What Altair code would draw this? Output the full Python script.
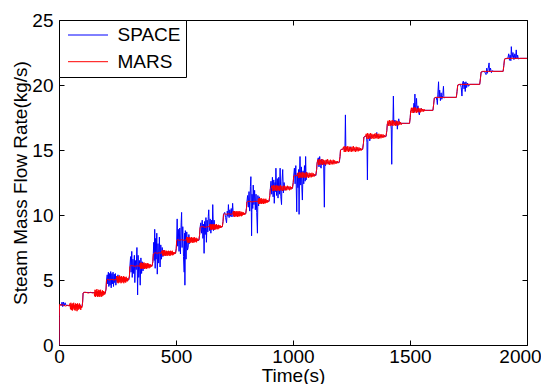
import altair as alt
import pandas as pd

# ---------------- data (time s, flow kg/s) ----------------
space_points = [
    (0, 0.0), (1, 2.2), (2, 3.0), (4, 3.1), (10, 3.05), (13, 3.3), (16, 2.95), (19, 3.3), (22, 3.0),
    (26, 3.25), (30, 3.05), (40, 3.05), (50, 3.0), (70, 2.95), (98, 2.95),
    (101, 3.3), (103, 4.0), (106, 4.05), (198, 4.0),
    (201, 4.3), (203, 5.0), (206, 5.4), (208, 4.7), (211, 5.6), (213, 4.5), (216, 5.5), (218, 4.6),
    (221, 5.65), (223, 4.4), (226, 5.5), (228, 4.7), (231, 5.6), (233, 4.5), (236, 5.45), (238, 4.8),
    (241, 5.5), (243, 4.6), (246, 5.3), (249, 4.9), (252, 5.4), (255, 4.85), (258, 5.2), (261, 5.0),
    (280, 5.0), (298, 5.0),
    (301, 5.3), (303, 6.05), (306, 6.8), (308, 5.6), (311, 7.2), (313, 5.2), (316, 6.6), (319, 5.5),
    (322, 6.9), (324, 4.8), (327, 6.5), (330, 5.8), (333, 7.5), (336, 3.85), (338, 6.9), (341, 5.2),
    (344, 6.5), (347, 4.6), (350, 6.7), (353, 5.5), (356, 6.4), (359, 5.7), (362, 6.3), (366, 5.9),
    (370, 6.1), (398, 6.1),
    (401, 6.4), (403, 7.05), (405, 7.9), (407, 6.5), (409, 8.9), (411, 5.9), (413, 8.2), (415, 6.6),
    (418, 8.6), (420, 5.45), (423, 7.8), (426, 6.3), (429, 8.3), (432, 6.0), (435, 7.7), (438, 6.6),
    (441, 7.5), (444, 6.8), (448, 7.3), (452, 6.9), (456, 7.05), (498, 7.05),
    (501, 7.4), (503, 8.05), (505, 9.7), (507, 7.6), (510, 8.9), (513, 7.2), (516, 9.0), (519, 7.0),
    (522, 9.4), (524, 10.2), (526, 7.5), (529, 9.1), (532, 6.8), (535, 5.6), (537, 8.6), (538, 4.6),
    (540, 8.8), (543, 6.6), (546, 8.7), (549, 7.3), (552, 7.5), (555, 8.5), (558, 7.8), (561, 8.2),
    (565, 8.05), (598, 8.05),
    (601, 8.5), (603, 9.05), (606, 9.4), (609, 8.6), (612, 9.6), (615, 8.2), (618, 9.3), (620, 7.05),
    (622, 9.5), (625, 8.5), (628, 9.8), (630, 7.9), (633, 9.6), (636, 8.7), (638, 9.9), (640, 10.4),
    (643, 8.8), (646, 9.7), (649, 8.6), (652, 9.6), (655, 8.9), (657, 10.8), (660, 8.8), (663, 9.6),
    (666, 8.9), (670, 9.2), (674, 9.1), (698, 9.1),
    (701, 9.5), (703, 10.05), (708, 10.2), (712, 9.8), (716, 9.4), (719, 10.3), (722, 9.9), (724, 10.8),
    (727, 9.8), (730, 10.4), (733, 9.9), (736, 10.5), (739, 9.85), (742, 10.9), (745, 9.9), (748, 10.3),
    (752, 10.0), (760, 10.1), (798, 10.1),
    (801, 10.5), (803, 11.0), (806, 11.5), (809, 10.6), (812, 11.8), (815, 10.3), (818, 12.2), (820, 12.95),
    (822, 10.2), (823, 8.4), (825, 11.6), (828, 10.5), (830, 12.3), (833, 10.8), (836, 11.9), (839, 10.4),
    (842, 11.6), (845, 10.2), (848, 8.6), (850, 11.5), (853, 10.7), (856, 11.4), (859, 10.9), (863, 11.1),
    (870, 11.05), (898, 11.05),
    (901, 11.5), (903, 12.0), (906, 12.6), (909, 11.6), (912, 12.9), (915, 11.4), (918, 12.7), (920, 10.9),
    (923, 12.5), (925, 11.8), (927, 13.6), (930, 11.5), (933, 12.8), (936, 11.3), (939, 12.9), (942, 11.6),
    (945, 13.6), (948, 11.4), (951, 10.8), (953, 12.6), (956, 13.5), (959, 11.7), (962, 12.5), (966, 11.9),
    (970, 12.1), (998, 12.05),
    (1001, 12.5), (1003, 13.0), (1006, 13.6), (1009, 12.4), (1012, 13.8), (1016, 10.25), (1018, 13.2),
    (1021, 12.1), (1024, 13.5), (1026, 10.05), (1028, 13.3), (1030, 14.5), (1033, 12.3), (1036, 13.7),
    (1038, 12.0), (1040, 11.15), (1043, 13.4), (1046, 12.4), (1049, 13.8), (1052, 12.6), (1054, 14.5),
    (1056, 12.7), (1059, 13.3), (1063, 13.0), (1070, 13.05), (1098, 13.05),
    (1101, 13.5), (1103, 14.0), (1108, 14.4), (1111, 13.7), (1114, 14.5), (1117, 13.8), (1120, 13.6),
    (1123, 14.3), (1127, 13.9), (1131, 14.1), (1134, 10.6), (1136, 14.0), (1139, 13.8), (1142, 14.2),
    (1145, 14.0), (1150, 14.05), (1198, 14.05),
    (1201, 14.5), (1203, 15.0), (1210, 15.05), (1218, 15.1), (1222, 15.0), (1224, 17.7), (1226, 15.0),
    (1232, 15.2), (1238, 14.9), (1245, 15.25), (1250, 15.0), (1260, 15.05), (1298, 15.05),
    (1301, 15.5), (1303, 16.0), (1310, 16.05), (1314, 16.1), (1316, 15.6), (1318, 12.7), (1320, 15.8),
    (1323, 16.1), (1328, 15.7), (1332, 16.05), (1345, 16.1), (1356, 16.1), (1358, 16.35), (1360, 16.0),
    (1370, 16.05), (1398, 16.05),
    (1401, 16.5), (1403, 17.0), (1410, 17.1), (1418, 17.0), (1420, 16.6), (1422, 13.9), (1424, 17.2),
    (1427, 17.0), (1429, 19.15), (1431, 17.1), (1436, 17.3), (1440, 16.9), (1444, 17.2), (1446, 16.6),
    (1448, 17.1), (1452, 17.4), (1455, 17.0), (1460, 17.05), (1498, 17.05),
    (1501, 17.5), (1503, 18.0), (1510, 18.1), (1514, 18.0), (1517, 18.6), (1519, 17.9), (1521, 19.3),
    (1523, 18.0), (1526, 18.5), (1528, 18.97), (1530, 18.0), (1534, 18.4), (1537, 17.9), (1540, 17.7),
    (1543, 18.1), (1548, 18.2), (1555, 18.05), (1598, 18.05),
    (1601, 18.5), (1604, 19.0), (1612, 19.05), (1615, 18.8), (1617, 18.5), (1619, 19.3), (1622, 20.25),
    (1624, 19.0), (1627, 19.6), (1630, 18.8), (1633, 19.4), (1636, 18.9), (1640, 19.2), (1643, 19.9),
    (1645, 19.0), (1650, 19.05), (1698, 19.05),
    (1701, 19.5), (1704, 20.0), (1716, 20.05), (1719, 19.8), (1722, 19.15), (1725, 20.2), (1728, 20.3),
    (1731, 19.7), (1734, 20.2), (1736, 19.5), (1739, 20.25), (1742, 19.8), (1746, 20.15), (1750, 19.9),
    (1756, 20.05), (1798, 20.05),
    (1801, 20.5), (1804, 21.0), (1818, 21.05), (1822, 20.9), (1825, 20.8), (1828, 21.3), (1831, 20.9),
    (1834, 21.25), (1838, 21.7), (1840, 21.0), (1844, 21.3), (1848, 20.95), (1852, 21.1), (1858, 21.05),
    (1898, 21.05),
    (1901, 21.5), (1904, 22.0), (1918, 22.05), (1922, 22.4), (1925, 21.9), (1928, 22.3), (1931, 21.87),
    (1933, 22.95), (1936, 22.1), (1940, 22.5), (1944, 21.95), (1948, 22.4), (1951, 22.0), (1954, 22.7),
    (1957, 22.0), (1960, 22.3), (1963, 22.0), (1970, 22.05), (2000, 22.05),
]

mars_points = [
    (0, 0.0), (1, 2.2), (2, 3.0), (4, 3.15), (8, 3.05), (14, 3.1), (20, 3.05), (28, 3.0), (36, 3.05), (44, 3.0),
    (47, 3.2), (49, 2.75), (51, 3.25), (53, 2.7), (55, 3.15), (57, 2.65), (59, 3.2), (61, 2.8), (63, 3.25),
    (65, 2.7), (67, 3.1), (69, 2.65), (71, 3.2), (73, 2.75), (75, 3.15), (77, 2.6), (79, 3.2), (81, 2.7),
    (83, 3.1), (85, 2.75), (87, 3.2), (89, 2.8), (91, 3.1), (93, 2.7), (95, 3.0), (97, 2.85), (99, 2.95),
    (101, 3.3), (103, 4.0), (106, 4.05), (115, 4.05), (125, 4.0), (135, 4.05), (145, 4.0), (150, 4.05),
    (152, 3.75), (154, 4.25), (156, 3.7), (158, 4.2), (160, 3.8), (162, 4.3), (164, 3.7), (166, 4.15),
    (168, 3.75), (170, 4.25), (172, 3.7), (174, 4.2), (176, 3.8), (178, 4.25), (180, 3.7), (182, 4.1),
    (184, 3.75), (186, 4.2), (188, 3.8), (190, 4.15), (192, 3.85), (194, 4.1), (196, 3.9), (198, 4.05),
    (201, 4.3), (203, 5.0), (206, 5.05), (215, 5.0), (225, 5.05), (235, 5.0), (245, 5.05),
    (247, 5.3), (249, 4.8), (251, 5.3), (253, 4.75), (255, 5.25), (257, 4.8), (259, 5.35), (261, 4.85),
    (263, 5.25), (265, 4.75), (267, 5.3), (269, 4.8), (271, 5.2), (273, 4.85), (275, 5.3), (277, 4.75),
    (279, 5.25), (281, 4.85), (283, 5.2), (285, 4.8), (287, 5.25), (289, 4.9), (291, 5.15), (293, 4.9),
    (295, 5.1), (297, 5.0),
    (301, 5.3), (303, 6.05), (306, 6.1), (315, 6.1), (325, 6.05), (335, 6.1), (345, 6.05),
    (347, 6.3), (349, 5.85), (351, 6.35), (353, 5.9), (355, 6.3), (357, 5.85), (359, 6.3), (361, 5.9),
    (363, 6.35), (365, 5.85), (367, 6.25), (369, 5.9), (371, 6.3), (373, 5.85), (375, 6.25), (377, 5.9),
    (379, 6.3), (381, 5.95), (383, 6.25), (385, 5.9), (387, 6.2), (389, 5.95), (391, 6.2), (393, 6.0),
    (395, 6.15), (397, 6.05),
    (401, 6.4), (403, 7.0), (406, 7.05), (412, 7.1), (420, 7.05), (428, 7.1), (436, 7.05),
    (440, 7.25), (442, 6.9), (444, 7.3), (446, 6.85), (448, 7.25), (450, 6.9), (452, 7.3), (454, 6.85),
    (456, 7.2), (458, 6.9), (460, 7.25), (462, 6.85), (464, 7.2), (466, 6.9), (468, 7.25), (470, 6.9),
    (472, 7.2), (474, 6.85), (476, 7.25), (478, 6.9), (480, 7.2), (482, 6.95), (484, 7.25), (486, 6.9),
    (488, 7.15), (490, 6.95), (492, 7.15), (494, 7.0), (496, 7.1), (498, 7.05),
    (501, 7.4), (503, 8.05), (506, 8.1), (515, 8.05), (525, 8.1), (535, 8.05), (544, 8.1),
    (546, 8.3), (548, 7.9), (550, 8.3), (552, 7.85), (554, 8.25), (556, 7.9), (558, 8.3), (560, 7.85),
    (562, 8.25), (564, 7.9), (566, 8.3), (568, 7.9), (570, 8.25), (572, 7.85), (574, 8.25), (576, 7.9),
    (578, 8.3), (580, 7.9), (582, 8.2), (584, 7.95), (586, 8.25), (588, 7.9), (590, 8.2), (592, 8.0),
    (594, 8.15), (596, 8.05), (598, 8.1),
    (601, 8.5), (603, 9.05), (606, 9.1), (615, 9.1), (625, 9.05), (635, 9.1), (643, 9.1),
    (645, 9.3), (647, 8.9), (649, 9.3), (651, 8.85), (653, 9.25), (655, 8.9), (657, 9.3), (659, 8.9),
    (661, 9.25), (663, 8.85), (665, 9.3), (667, 8.9), (669, 9.25), (671, 8.9), (673, 9.3), (675, 8.95),
    (677, 9.2), (679, 8.9), (681, 9.25), (683, 8.95), (685, 9.2), (687, 9.0), (689, 9.2), (691, 9.0),
    (693, 9.15), (695, 9.05), (698, 9.1),
    (701, 9.5), (703, 10.05), (706, 10.1), (715, 10.05), (725, 10.1), (735, 10.05), (743, 10.1),
    (745, 10.3), (747, 9.9), (749, 10.3), (751, 9.85), (753, 10.25), (755, 9.9), (757, 10.3), (759, 9.9),
    (761, 10.25), (763, 9.85), (765, 10.3), (767, 9.9), (769, 10.25), (771, 9.9), (773, 10.3), (775, 9.95),
    (777, 10.2), (779, 9.9), (781, 10.25), (783, 9.95), (785, 10.2), (787, 10.0), (789, 10.2), (791, 10.0),
    (793, 10.15), (795, 10.05), (798, 10.1),
    (801, 10.5), (803, 11.0), (806, 11.05), (815, 11.05), (825, 11.0), (835, 11.05), (845, 11.05), (850, 11.0),
    (852, 11.25), (854, 10.85), (856, 11.3), (858, 10.85), (860, 11.25), (862, 10.9), (864, 11.3), (866, 10.85),
    (868, 11.2), (870, 10.9), (872, 11.25), (874, 10.85), (876, 11.25), (878, 10.9), (880, 11.2), (882, 10.9),
    (884, 11.25), (886, 10.95), (888, 11.15), (890, 10.95), (892, 11.15), (894, 11.0), (897, 11.05),
    (901, 11.5), (903, 12.0), (906, 12.05),
    (910, 12.25), (913, 11.85), (916, 12.3), (919, 11.85), (922, 12.25), (925, 11.9), (928, 12.3), (931, 11.85),
    (934, 12.25), (937, 11.9), (940, 12.25), (943, 11.85), (946, 12.3), (949, 11.9), (952, 12.2), (955, 11.85),
    (958, 12.25), (961, 11.9), (964, 12.25), (967, 11.9), (970, 12.2), (973, 11.9), (976, 12.25), (979, 11.95),
    (982, 12.2), (985, 11.9), (988, 12.2), (991, 11.95), (994, 12.15), (997, 12.05),
    (1001, 12.5), (1003, 13.0), (1006, 13.05), (1012, 13.05), (1018, 13.0),
    (1021, 13.25), (1024, 12.85), (1027, 13.3), (1030, 12.85), (1033, 13.25), (1036, 12.9), (1039, 13.3),
    (1042, 12.85), (1045, 13.25), (1048, 12.9), (1051, 13.25), (1054, 12.85), (1057, 13.3), (1060, 12.9),
    (1063, 13.2), (1066, 12.85), (1069, 13.25), (1072, 12.9), (1075, 13.2), (1078, 12.9), (1081, 13.25),
    (1084, 12.95), (1087, 13.2), (1090, 12.95), (1093, 13.15), (1097, 13.05),
    (1101, 13.5), (1103, 14.0), (1106, 14.25), (1109, 13.85), (1112, 14.3), (1115, 13.85), (1118, 14.25),
    (1121, 13.9), (1124, 14.3), (1127, 13.85), (1130, 14.25), (1133, 13.9), (1136, 14.2), (1139, 13.85),
    (1142, 14.25), (1145, 13.9), (1148, 14.3), (1151, 13.9), (1154, 14.2), (1157, 13.85), (1160, 14.25),
    (1163, 13.9), (1166, 14.2), (1169, 13.9), (1172, 14.25), (1175, 13.9), (1178, 14.2), (1181, 13.95),
    (1184, 14.15), (1187, 13.95), (1190, 14.15), (1193, 14.0), (1197, 14.05),
    (1201, 14.5), (1203, 15.0), (1206, 15.05), (1212, 15.05),
    (1216, 15.25), (1219, 14.85), (1222, 15.3), (1225, 14.85), (1228, 15.25), (1231, 14.9), (1234, 15.3),
    (1237, 14.85), (1240, 15.25), (1243, 14.9), (1246, 15.2), (1249, 14.85), (1252, 15.25), (1255, 14.9),
    (1258, 15.3), (1261, 14.9), (1264, 15.2), (1267, 14.85), (1270, 15.25), (1273, 14.9), (1276, 15.2),
    (1279, 14.9), (1282, 15.2), (1285, 14.95), (1288, 15.15), (1291, 14.95), (1294, 15.1), (1297, 15.05),
    (1301, 15.5), (1303, 16.0), (1306, 16.05), (1310, 16.05),
    (1313, 16.25), (1316, 15.85), (1319, 16.3), (1322, 15.85), (1325, 16.25), (1328, 15.9), (1331, 16.3),
    (1334, 15.85), (1337, 16.25), (1340, 15.9), (1343, 16.2), (1346, 15.85), (1349, 16.25), (1352, 15.9),
    (1355, 16.3), (1358, 15.9), (1361, 16.2), (1364, 15.85), (1367, 16.25), (1370, 15.9), (1373, 16.2),
    (1376, 15.9), (1379, 16.2), (1382, 15.95), (1385, 16.2), (1388, 15.95), (1391, 16.15), (1394, 16.0),
    (1397, 16.05),
    (1401, 16.5), (1403, 17.0), (1406, 17.25), (1409, 16.85), (1412, 17.3), (1415, 16.85), (1418, 17.25),
    (1421, 16.9), (1424, 17.3), (1427, 16.85), (1430, 17.25), (1433, 16.9), (1436, 17.2), (1439, 16.85),
    (1442, 17.25), (1445, 16.9), (1448, 17.2), (1451, 16.9), (1454, 17.2), (1457, 16.95), (1460, 17.15),
    (1463, 16.95), (1466, 17.05), (1475, 17.05), (1485, 17.05), (1498, 17.05),
    (1501, 17.5), (1503, 18.0), (1506, 18.25), (1509, 17.85), (1512, 18.25), (1515, 17.85), (1518, 18.3),
    (1521, 17.9), (1524, 18.25), (1527, 17.85), (1530, 18.2), (1533, 17.9), (1536, 18.25), (1539, 17.9),
    (1542, 18.2), (1545, 17.9), (1548, 18.2), (1551, 17.95), (1554, 18.15), (1557, 17.95), (1560, 18.15),
    (1563, 18.0), (1566, 18.05), (1580, 18.05), (1598, 18.05),
    (1601, 18.5), (1604, 19.0), (1610, 19.05), (1698, 19.05),
    (1701, 19.5), (1704, 20.0), (1710, 20.05), (1798, 20.05),
    (1801, 20.5), (1804, 21.0), (1810, 21.05), (1898, 21.05),
    (1901, 21.5), (1904, 22.0), (1910, 22.05), (2000, 22.05),
]

series_names = ["SPACE", "MARS"]
series_colors = ["#0000ff", "#ff0000"]
x_ticks = [0, 500, 1000, 1500, 2000]
y_ticks = [0, 5, 10, 15, 20, 25]
x_title = "Time(s)"
y_title = "Steam Mass Flow Rate(kg/s)"

rows = [{"t": t, "flow": v, "series": "SPACE"} for t, v in space_points]
rows += [{"t": t, "flow": v, "series": "MARS"} for t, v in mars_points]
df = pd.DataFrame(rows)

FONT = "Liberation Sans"
FS = 19

x_scale = alt.Scale(domain=[0, 2000], nice=False, zero=False)
y_scale = alt.Scale(domain=[0, 25], nice=False, zero=False)
color_scale = alt.Scale(domain=series_names, range=series_colors)

common_axis = dict(grid=False, domain=False, tickSize=5, tickColor="black", tickWidth=1,
                   offset=-5, labelFont=FONT, labelFontSize=FS, labelColor="black",
                   titleFont=FONT, titleFontSize=FS, titleColor="black", titleFontWeight="normal")

x_axis = alt.Axis(title=x_title, values=x_ticks, labelPadding=2, titlePadding=0,
                  labelFlush=False, format="d",
                  labelOffset={"condition": {"test": "datum.value == 2000", "value": -7}, "value": 0},
                  **common_axis)
y_axis = alt.Axis(title=y_title, values=y_ticks, labelPadding=6, titlePadding=1,
                  format="d", **common_axis)
x_axis_top = alt.Axis(orient="top", values=x_ticks, labels=False, title=None, **common_axis)
y_axis_right = alt.Axis(orient="right", values=y_ticks, labels=False, title=None, **common_axis)

legend = alt.Legend(title=None, orient="none", legendX=0, legendY=0,
                    symbolType="stroke", symbolSize=1600, symbolStrokeWidth=1,
                    clipHeight=20, rowPadding=6.7, padding=5, symbolOffset=3.5, labelOffset=9,
                    labelFont=FONT, labelFontSize=FS, labelColor="black",
                    strokeColor="black", fillColor="white", cornerRadius=0)

space_layer = alt.Chart(df).transform_filter(alt.datum.series == "SPACE").mark_line(
    strokeWidth=1, clip=True
).encode(
    x=alt.X("t:Q", scale=x_scale, axis=x_axis),
    y=alt.Y("flow:Q", scale=y_scale, axis=y_axis),
    color=alt.Color("series:N", scale=color_scale, legend=legend),
)

mars_layer = alt.Chart(df).transform_filter(alt.datum.series == "MARS").mark_line(
    strokeWidth=1, clip=True
).encode(
    x=alt.X("t:Q", scale=x_scale, axis=x_axis_top),
    y=alt.Y("flow:Q", scale=y_scale, axis=y_axis_right),
    color=alt.Color("series:N", scale=color_scale, legend=legend),
)

chart = alt.layer(space_layer, mars_layer).resolve_axis(
    x="independent", y="independent"
).properties(
    width=468, height=325,
    autosize=alt.AutoSizeParams(type="none"),
    padding={"left": 51, "top": 12, "right": 14, "bottom": 39},
    background="white",
).configure_view(stroke="black", strokeWidth=1)

chart.save("out.html", embed_options={"renderer": "svg", "actions": False})
